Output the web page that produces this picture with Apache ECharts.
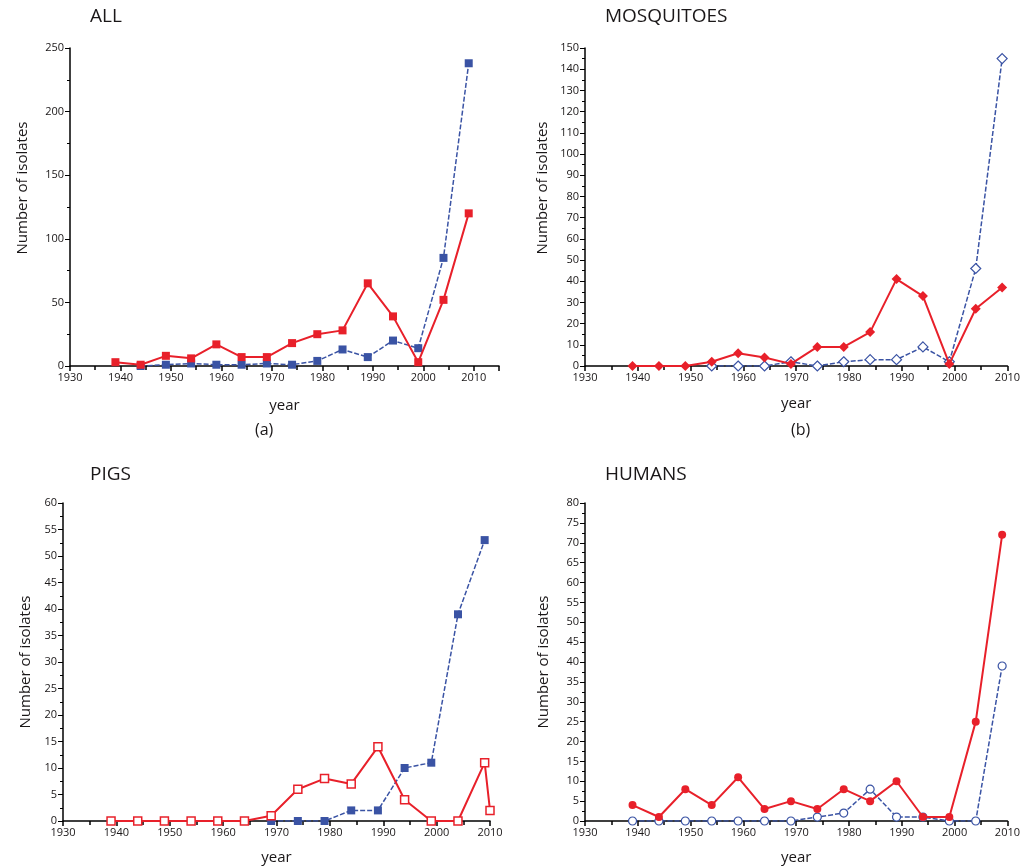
<!DOCTYPE html>
<html>
<head>
<meta charset="utf-8">
<script src="https://cdn.jsdelivr.net/npm/echarts@6/dist/echarts.min.js"></script>
<style>
  html, body { margin: 0; padding: 0; background: #fff; }
  #charts { width: 1023px; height: 867px; }
</style>
</head>
<body>
<div id="charts"></div>
<script>
// years of the 5-year bins
var years = [1939, 1944, 1949, 1954, 1959, 1964, 1969, 1974, 1979, 1984, 1989, 1994, 1999, 2004, 2009];

// (a) ALL
var allRed  = [3, 1, 8, 6, 17, 7, 7, 18, 25, 28, 65, 39, 3, 52, 120];
var allBlue = [null, 0, 1, 2, 1, 1, 2, 1, 4, 13, 7, 20, 14, 85, 238];

// (b) MOSQUITOES
var mosRed  = [0, 0, 0, 2, 6, 4, 1, 9, 9, 16, 41, 33, 1, 27, 37];
var mosBlue = [null, null, null, 0, 0, 0, 2, 0, 2, 3, 3, 9, 2, 46, 145];

// (c) PIGS
var pigRed  = [0, 0, 0, 0, 0, 0, 1, 6, 8, 7, 14, 4, 0, 0, 11];
var pigRedLastYear = 2010, pigRedLastValue = 2;
var pigBlue = [null, null, null, null, null, null, 0, 0, 0, 2, 2, 10, 11, 39, 53];

// (d) HUMANS
var humRed  = [4, 1, 8, 4, 11, 3, 5, 3, 8, 5, 10, 1, 1, 25, 72];
var humBlue = [0, 0, 0, 0, 0, 0, 0, 1, 2, 8, 1, 1, 0, 0, 39];

var panelTitles = ['ALL', 'MOSQUITOES', 'PIGS', 'HUMANS'];

var RED = '#e8202a';
var BLUE = '#3a53a4';
var FONT = '"Open Sans", "Noto Sans", sans-serif';
var TEXT = '#1a1718';

function pairs(vals) {
  var out = [];
  vals.forEach(function (v, i) {
    if (v !== null) out.push([years[i], v]);
  });
  return out;
}

var grids = [
  { left: 70, top: 48, width: 429, height: 318 },
  { left: 585, top: 48, width: 428, height: 318 },
  { left: 63, top: 503, width: 427, height: 318 },
  { left: 585, top: 503, width: 428, height: 318 }
];
var xMax = [2015, 2010, 2010, 2010];
var yMax = [250, 150, 60, 80];
var yInt = [50, 10, 5, 5];
var yNameGap = [40, 35, 30, 34];
var yNameShift = [38, 38, 0, 0];
var xNameGap = [32, 30, 29, 29];

var xAxes = grids.map(function (g, i) {
  return {
    type: 'value', gridIndex: i, min: 1930, max: xMax[i], interval: 10,
    name: 'year', nameLocation: 'middle', nameGap: xNameGap[i],
    nameTextStyle: { fontFamily: FONT, fontSize: 15, color: TEXT },
    axisLine: { onZero: false, lineStyle: { color: '#000', width: 1.5 } },
    axisTick: { length: 5, lineStyle: { color: '#000', width: 1.5 } },
    minorTick: { show: true, splitNumber: 2, length: 4, lineStyle: { color: '#000', width: 1.5 } },
    splitLine: { show: false },
    axisLabel: {
      fontFamily: FONT, fontSize: 11, color: TEXT, margin: 6,
      formatter: function (v) { return v % 10 === 0 ? String(v) : ''; }
    }
  };
});

var yAxes = grids.map(function (g, i) {
  return {
    type: 'value', gridIndex: i, min: 0, max: yMax[i], interval: yInt[i],
    name: 'Number of isolates', nameLocation: 'middle', nameRotate: 90, nameGap: yNameGap[i],
    nameTextStyle: { fontFamily: FONT, fontSize: 15, color: TEXT, padding: [0, 0, 0, yNameShift[i]] },
    axisLine: { lineStyle: { color: '#000', width: 1.5 } },
    axisTick: { length: 5, lineStyle: { color: '#000', width: 1 } },
    minorTick: { show: true, splitNumber: 2, length: 3, lineStyle: { color: '#000', width: 1 } },
    splitLine: { show: false },
    axisLabel: { fontFamily: FONT, fontSize: 11, color: TEXT, margin: 6 }
  };
});

function redLine(i, data, symbol, open) {
  return {
    type: 'line', xAxisIndex: i, yAxisIndex: i, data: data,
    symbol: symbol, symbolSize: symbol === 'diamond' ? 10 : 8, showAllSymbol: true,
    lineStyle: { color: RED, width: 2 },
    itemStyle: { color: open ? '#fff' : RED, borderColor: RED, borderWidth: open ? 1.5 : 0 },
    z: 3, animation: false
  };
}

function blueLine(i, data, symbol, open) {
  return {
    type: 'line', xAxisIndex: i, yAxisIndex: i, data: data,
    symbol: symbol, symbolSize: symbol === 'diamond' ? 10 : 8, showAllSymbol: true,
    lineStyle: { color: BLUE, width: 1.5, type: [5, 2] },
    itemStyle: { color: open ? '#fff' : BLUE, borderColor: BLUE, borderWidth: open ? 1.2 : 0 },
    z: 2, animation: false
  };
}

var pigRedData = pairs(pigRed);
pigRedData.push([pigRedLastYear, pigRedLastValue]);

var series = [
  blueLine(0, pairs(allBlue), 'rect', false),
  redLine(0, pairs(allRed), 'rect', false),
  blueLine(1, pairs(mosBlue), 'diamond', true),
  redLine(1, pairs(mosRed), 'diamond', false),
  blueLine(2, pairs(pigBlue), 'rect', false),
  redLine(2, pigRedData, 'rect', true),
  blueLine(3, pairs(humBlue), 'circle', true),
  redLine(3, pairs(humRed), 'circle', false)
];

var titlePos = [[90, 7], [605, 7], [90, 465], [605, 465]];
var titles = panelTitles.map(function (t, i) {
  return {
    text: t, left: titlePos[i][0], top: titlePos[i][1], padding: 0,
    textStyle: { fontFamily: FONT, fontSize: 19, fontWeight: 'normal', color: TEXT }
  };
});

var myChart = echarts.init(document.getElementById('charts'));
myChart.setOption({
  animation: false,
  title: titles,
  grid: grids,
  xAxis: xAxes,
  yAxis: yAxes,
  series: series,
  graphic: [
    { type: 'text', left: 255, top: 422, style: { text: '(a)', font: '16px ' + FONT, fill: TEXT } },
    { type: 'text', left: 791, top: 422, style: { text: '(b)', font: '16px ' + FONT, fill: TEXT } }
  ]
});
</script>
</body>
</html>
